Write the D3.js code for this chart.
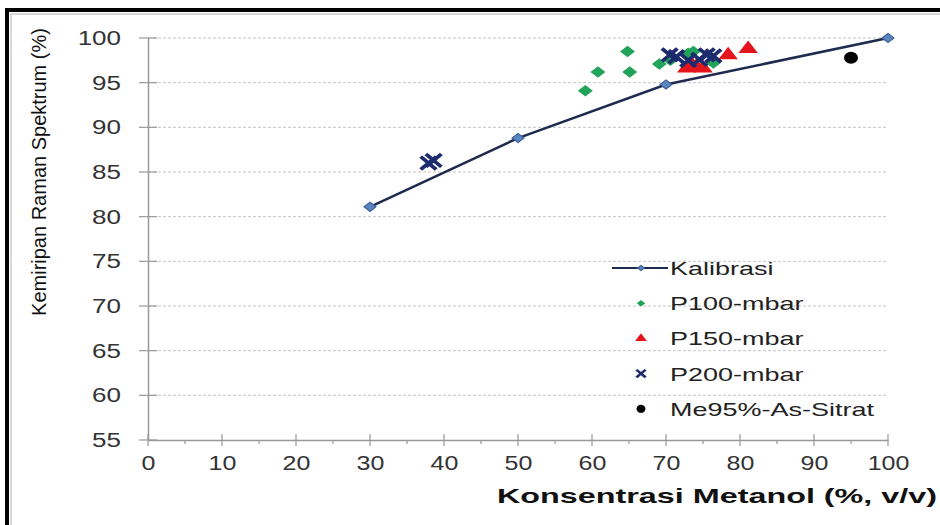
<!DOCTYPE html>
<html>
<head>
<meta charset="utf-8">
<script src="https://cdn.jsdelivr.net/npm/d3@7"></script>
<style>
body{margin:0;background:#fff;}
svg{display:block;}
</style>
</head>
<body>
<svg></svg>
<script>
// kalibrasi curve
var kalX=[30,50,70,100]
var kalY=[81.1,88.8,94.8,100]

// P100-mbar
var p100X=[59.1,60.8,64.8,65.1,69.1,73.0,73.7,76.4,70.6]
var p100Y=[94.1,96.2,98.5,96.2,97.1,98.3,98.5,97.2,97.5]

// P150-mbar
var p150X=[72.8,74.1,75.0,73.5,78.4,81.1]
var p150Y=[96.6,96.8,96.6,97.0,98.1,98.8]

// P200-mbar
var p200X=[37.9,38.6,70.5,71.4,73.0,74.5,75.5,76.4]
var p200Y=[86.0,86.3,98.1,97.9,97.5,97.6,98.1,98.0]

// Me95%-As-Sitrat
var meX=[95]
var meY=[97.8]

var xTicks=[0,10,20,30,40,50,60,70,80,90,100]
var yTicks=[55,60,65,70,75,80,85,90,95,100]
var legendNames=["Kalibrasi","P100-mbar","P150-mbar","P200-mbar","Me95%-As-Sitrat"]

var screen={width:940,height:525}
var margins={top:38,right:52,bottom:85,left:148}

var zip=function(xs,ys){
    return xs.map(function(x,i){return {x:x,y:ys[i]}})
}

// the source picture is stretched sideways, so widen the text the same way
var stretch=function(sel,k){
    sel.each(function(){
        var l=this.getComputedTextLength()
        d3.select(this).attr("textLength",l*k).attr("lengthAdjust","spacingAndGlyphs")
    })
}

var svg=d3.select("svg")
    .attr("width",screen.width)
    .attr("height",screen.height)

var width=screen.width-margins.left-margins.right
var height=screen.height-margins.top-margins.bottom

var xScale=d3.scaleLinear().domain([0,100]).range([0,width])
var yScale=d3.scaleLinear().domain([55,100]).range([height,0])

// frame
svg.append("path")
    .attr("d","M7,525 L7,10 L940,10")
    .attr("fill","none")
    .attr("stroke","#000")
    .attr("stroke-width",4)
svg.append("path")
    .attr("d","M11,525 L11,14 L940,14")
    .attr("fill","none")
    .attr("stroke","#ccc")
    .attr("stroke-width",1.5)

var graph=svg.append("g")
    .attr("transform","translate("+margins.left+","+margins.top+")")

// gridlines
graph.append("g")
    .selectAll("line")
    .data(yTicks.filter(function(t){return t>55}))
    .enter()
    .append("line")
    .attr("x1",0)
    .attr("x2",width)
    .attr("y1",function(t){return yScale(t)})
    .attr("y2",function(t){return yScale(t)})
    .attr("stroke","#c4c4c4")
    .attr("stroke-width",1)
    .attr("stroke-dasharray","3,2")

var font="'Liberation Sans',Arial,sans-serif"

// y axis
var yAxis=d3.axisLeft(yScale).tickValues(yTicks).tickSize(0).tickPadding(27)
var yg=graph.append("g").call(yAxis)
yg.select(".domain").attr("stroke","#999").attr("stroke-width",1.5)
yg.selectAll("text").attr("font-size",20).attr("font-family",font).attr("fill","#333")
stretch(yg.selectAll("text"),1.3)
yg.selectAll(".tickmark").data(yTicks).enter().append("line")
    .attr("x1",-9).attr("x2",9)
    .attr("y1",function(t){return yScale(t)})
    .attr("y2",function(t){return yScale(t)})
    .attr("stroke","#999").attr("stroke-width",1.2)

// x axis
var xAxis=d3.axisBottom(xScale).tickValues(xTicks).tickSize(0).tickPadding(16)
var xg=graph.append("g")
    .attr("transform","translate(0,"+height+")")
    .call(xAxis)
xg.select(".domain").attr("stroke","#999").attr("stroke-width",1.5)
xg.selectAll("text").attr("font-size",20).attr("font-family",font).attr("fill","#333")
stretch(xg.selectAll("text"),1.25)
xg.selectAll(".major").data(xTicks).enter().append("line")
    .attr("x1",function(t){return xScale(t)})
    .attr("x2",function(t){return xScale(t)})
    .attr("y1",-6).attr("y2",6)
    .attr("stroke","#999").attr("stroke-width",1.2)
xg.selectAll(".minor").data(xTicks.slice(0,10)).enter().append("line")
    .attr("x1",function(t){return xScale(t+5)})
    .attr("x2",function(t){return xScale(t+5)})
    .attr("y1",0).attr("y2",4)
    .attr("stroke","#999").attr("stroke-width",1.2)

// axis titles
svg.append("text")
    .attr("transform","translate(46,172) rotate(-90)")
    .attr("text-anchor","middle")
    .attr("font-family",font)
    .attr("font-size",20)
    .attr("fill","#111")
    .text("Kemiripan Raman Spektrum (%)")

svg.append("text")
    .attr("x",937)
    .attr("y",503)
    .attr("text-anchor","end")
    .attr("font-family",font)
    .attr("font-weight","bold")
    .attr("font-size",21)
    .attr("textLength",440)
    .attr("lengthAdjust","spacingAndGlyphs")
    .attr("fill","#111")
    .text("Konsentrasi Metanol (%, v/v)")

// symbols
var diamond=d3.symbol().type(d3.symbolSquare)
var triangle=d3.symbol().type(d3.symbolTriangle)
var cross=d3.symbol().type(d3.symbolTimes)

var drawpoints=function(data,sym,size,fill,stroke,sw,extra)
{
    graph.append("g")
        .selectAll("path")
        .data(data)
        .enter()
        .append("path")
        .attr("transform",function(d){return "translate("+xScale(d.x)+","+yScale(d.y)+")"+extra})
        .attr("d",sym.size(size)())
        .attr("fill",fill)
        .attr("stroke",stroke)
        .attr("stroke-width",sw)
}

// kalibrasi line
var lineGenerator=d3.line()
    .x(function(d){return xScale(d.x)})
    .y(function(d){return yScale(d.y)})

graph.append("path")
    .datum(zip(kalX,kalY))
    .attr("d",lineGenerator)
    .attr("fill","none")
    .attr("stroke","#1f2a4f")
    .attr("stroke-width",2.5)
drawpoints(zip(kalX,kalY),diamond,42,"#5b86c0","#3a5f94",1," scale(1.3,1) rotate(45)")

drawpoints(zip(p100X,p100Y),diamond,66,"#22a35a","none",0," scale(1.3,1) rotate(45)")
drawpoints(zip(p150X,p150Y),triangle,90,"#e3141b","none",0," scale(1.35,1)")
drawpoints(zip(p200X,p200Y),cross,110,"none","#1c2a6e",3.4," scale(1.2,1)")

graph.append("g")
    .selectAll("ellipse")
    .data(zip(meX,meY))
    .enter()
    .append("ellipse")
    .attr("cx",function(d){return xScale(d.x)})
    .attr("cy",function(d){return yScale(d.y)})
    .attr("rx",7)
    .attr("ry",6)
    .attr("fill","#000")

// legend
var legend=svg.append("g").attr("transform","translate(612,268)")
var rows=legend.selectAll("g")
    .data(legendNames)
    .enter()
    .append("g")
    .attr("transform",function(d,i){return "translate(0,"+(i*35.2)+")"})

var labels=rows.append("text")
    .attr("x",58)
    .attr("y",7)
    .attr("font-family",font)
    .attr("font-size",19)
    .attr("fill","#222")
    .text(function(d){return d})
stretch(labels,1.42)

var lg=legend.append("g")
lg.append("line").attr("x1",0).attr("x2",56).attr("y1",0).attr("y2",0)
    .attr("stroke","#1f2a4f").attr("stroke-width",2.2)
lg.append("path").attr("transform","translate(29,0) scale(1.3,1) rotate(45)")
    .attr("d",diamond.size(14)()).attr("fill","#5b86c0").attr("stroke","#3a5f94")
legend.append("path").attr("transform","translate(29,"+35.2+") scale(1.3,1) rotate(45)")
    .attr("d",diamond.size(22)()).attr("fill","#22a35a")
legend.append("path").attr("transform","translate(29,"+(35.2*2)+") scale(1.3,1)")
    .attr("d",triangle.size(36)()).attr("fill","#e3141b")
legend.append("path").attr("transform","translate(29,"+(35.2*3)+") scale(1.2,1)")
    .attr("d",cross.size(40)()).attr("fill","none").attr("stroke","#1c2a6e").attr("stroke-width",2.4)
legend.append("ellipse").attr("cx",29).attr("cy",35.2*4).attr("rx",4.5).attr("ry",4).attr("fill","#000")
</script>
</body>
</html>
